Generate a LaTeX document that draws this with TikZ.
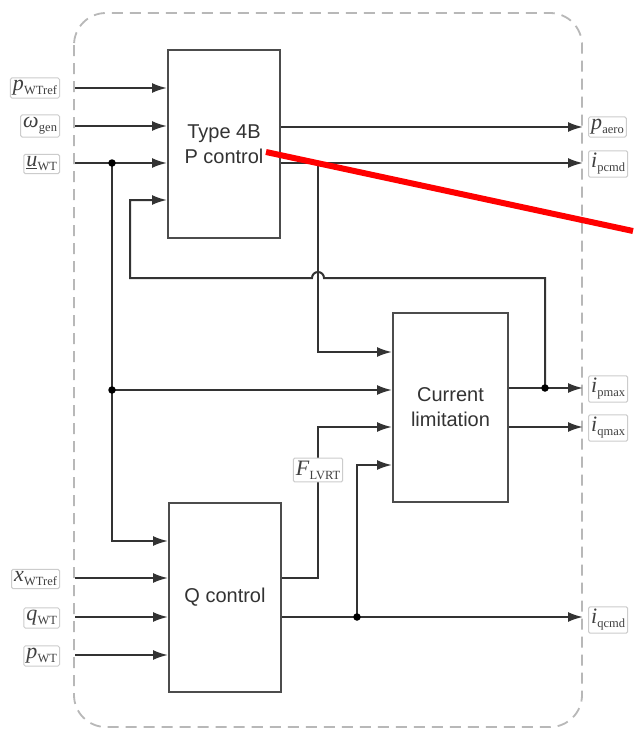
\documentclass[tikz,border=0pt]{standalone}
\usepackage{fontspec}
\setmainfont{Liberation Serif}
\newfontfamily\arialf{Liberation Sans}
\usetikzlibrary{arrows.meta,calc}
\newcommand{\lab}[2]{{\itshape #1}\kern0.3pt\raisebox{-0.4ex}{\fontsize{12.5}{12.5}\selectfont #2}}
\begin{document}
\begin{tikzpicture}[x=1pt,y=-1pt,
  blk/.style={draw=black!70, line width=2pt, fill=white, font=\arialf\fontsize{20}{25}\selectfont, text=black!80, align=center, inner sep=0pt},
  wire/.style={draw=black!80, line width=2pt},
  arr/.style={wire, -{Latex[length=15pt,width=10pt]}},
  jdot/.style={circle, fill=black, inner sep=0pt, minimum size=7.5pt},
  lbl/.style={draw=black!20, line width=1pt, rounded corners=1.5pt, inner sep=2.5pt, font=\fontsize{22}{22}\selectfont, text=black!75, fill=white},
  frame/.style={draw=black!28, line width=1.8pt, dash pattern=on 11pt off 7pt, rounded corners=32pt}]
\useasboundingbox (0,0) rectangle (633,729);
\fill[white] (0,0) rectangle (633,729);
% dashed frame
\draw[frame] (74,13) rectangle (582,727);
% blocks
\node[blk, minimum width=112pt, minimum height=188pt] (P) at (224,144) {Type 4B\\P control};
\node[blk, minimum width=115pt, minimum height=189pt] (C) at (450.5,407.5) {Current\\limitation};
\node[blk, minimum width=112pt, minimum height=189pt] (Q) at (225,597.5) {Q control};
% left labels
\node[lbl, anchor=east] (lpref) at (60,88) {\lab{p}{WTref}};
\node[lbl, anchor=east] (lwgen) at (60,126) {\lab{ω}{gen}};
\node[lbl, anchor=east] (luwt) at (60,164) {\underline{\itshape u}\kern0.3pt\raisebox{-0.4ex}{\fontsize{12.5}{12.5}\selectfont WT}};
\node[lbl, anchor=east] (lxref) at (60,579) {\lab{x}{WTref}};
\node[lbl, anchor=east] (lqwt) at (60,618) {\lab{q}{WT}};
\node[lbl, anchor=east] (lpwt) at (60,656) {\lab{p}{WT}};
% right labels
\node[lbl, anchor=west] (lpaero) at (588,127) {\lab{p}{aero}};
\node[lbl, anchor=west] (lipcmd) at (588,164) {\lab{i}{pcmd}};
\node[lbl, anchor=west] (lipmax) at (588,389) {\lab{i}{pmax}};
\node[lbl, anchor=west] (liqmax) at (588,428) {\lab{i}{qmax}};
\node[lbl, anchor=west] (liqcmd) at (588,620) {\lab{i}{qcmd}};
% coordinates
\coordinate (uwtS) at ([xshift=15pt]luwt.east);
\coordinate (uJ1) at (112,163);
\coordinate (uJ2) at (112,390);
\coordinate (pmJ) at (545,388);
\coordinate (pcJ) at (318,163);
\coordinate (qcJ) at (357,617);
% P inputs
\draw[arr] (75,88) -- (P.west |- 0,88);
\draw[arr] (75,126) -- (P.west |- 0,126);
\draw[arr] (75,163) -- (P.west |- 0,163);
% u_WT distribution
\draw[wire] (uJ1) -- (uJ2);
\draw[arr] (uJ2) -- (112,541) -- (Q.west |- 0,541);
\draw[arr] (uJ2) -- (C.west |- uJ2);
\node[jdot] at (uJ1) {};
\node[jdot] at (uJ2) {};
% P outputs
\draw[arr] (P.east |- 0,127) -- ([xshift=-5pt]lpaero.west |- 0,127);
\draw[arr] (P.east |- pcJ) -- ([xshift=-5pt]lipcmd.west |- pcJ);
\draw[arr] (pcJ) -- (318,352) -- (C.west |- 0,352);
% current limitation outputs
\draw[arr] (C.east |- pmJ) -- ([xshift=-5pt]lipmax.west |- pmJ);
\draw[arr] (C.east |- 0,427) -- ([xshift=-5pt]liqmax.west |- 0,427);
% feedback with jump
\draw[arr] (pmJ) -- (545,278) -- (324,278) arc[start angle=0, end angle=-180, radius=6] -- (130,278) -- (130,200) -- (P.west |- 0,200);
\node[jdot] at (pmJ) {};
% Q inputs
\draw[arr] (75,578) -- (Q.west |- 0,578);
\draw[arr] (75,617) -- (Q.west |- 0,617);
\draw[arr] (75,655) -- (Q.west |- 0,655);
% Q outputs
\draw[arr] (Q.east |- 0,578) -- (318,578) -- (318,427) -- (C.west |- 0,427);
\node[lbl] (lflvrt) at (318,470) {\lab{F}{LVRT}};
\draw[arr] (Q.east |- qcJ) -- ([xshift=-5pt]liqcmd.west |- qcJ);
\draw[arr] (qcJ) -- (357,465) -- (C.west |- 0,465);
\node[jdot] at (qcJ) {};
% red annotation line
\draw[red, line width=6pt] (266,152) -- (633,231);
\end{tikzpicture}
\end{document}
